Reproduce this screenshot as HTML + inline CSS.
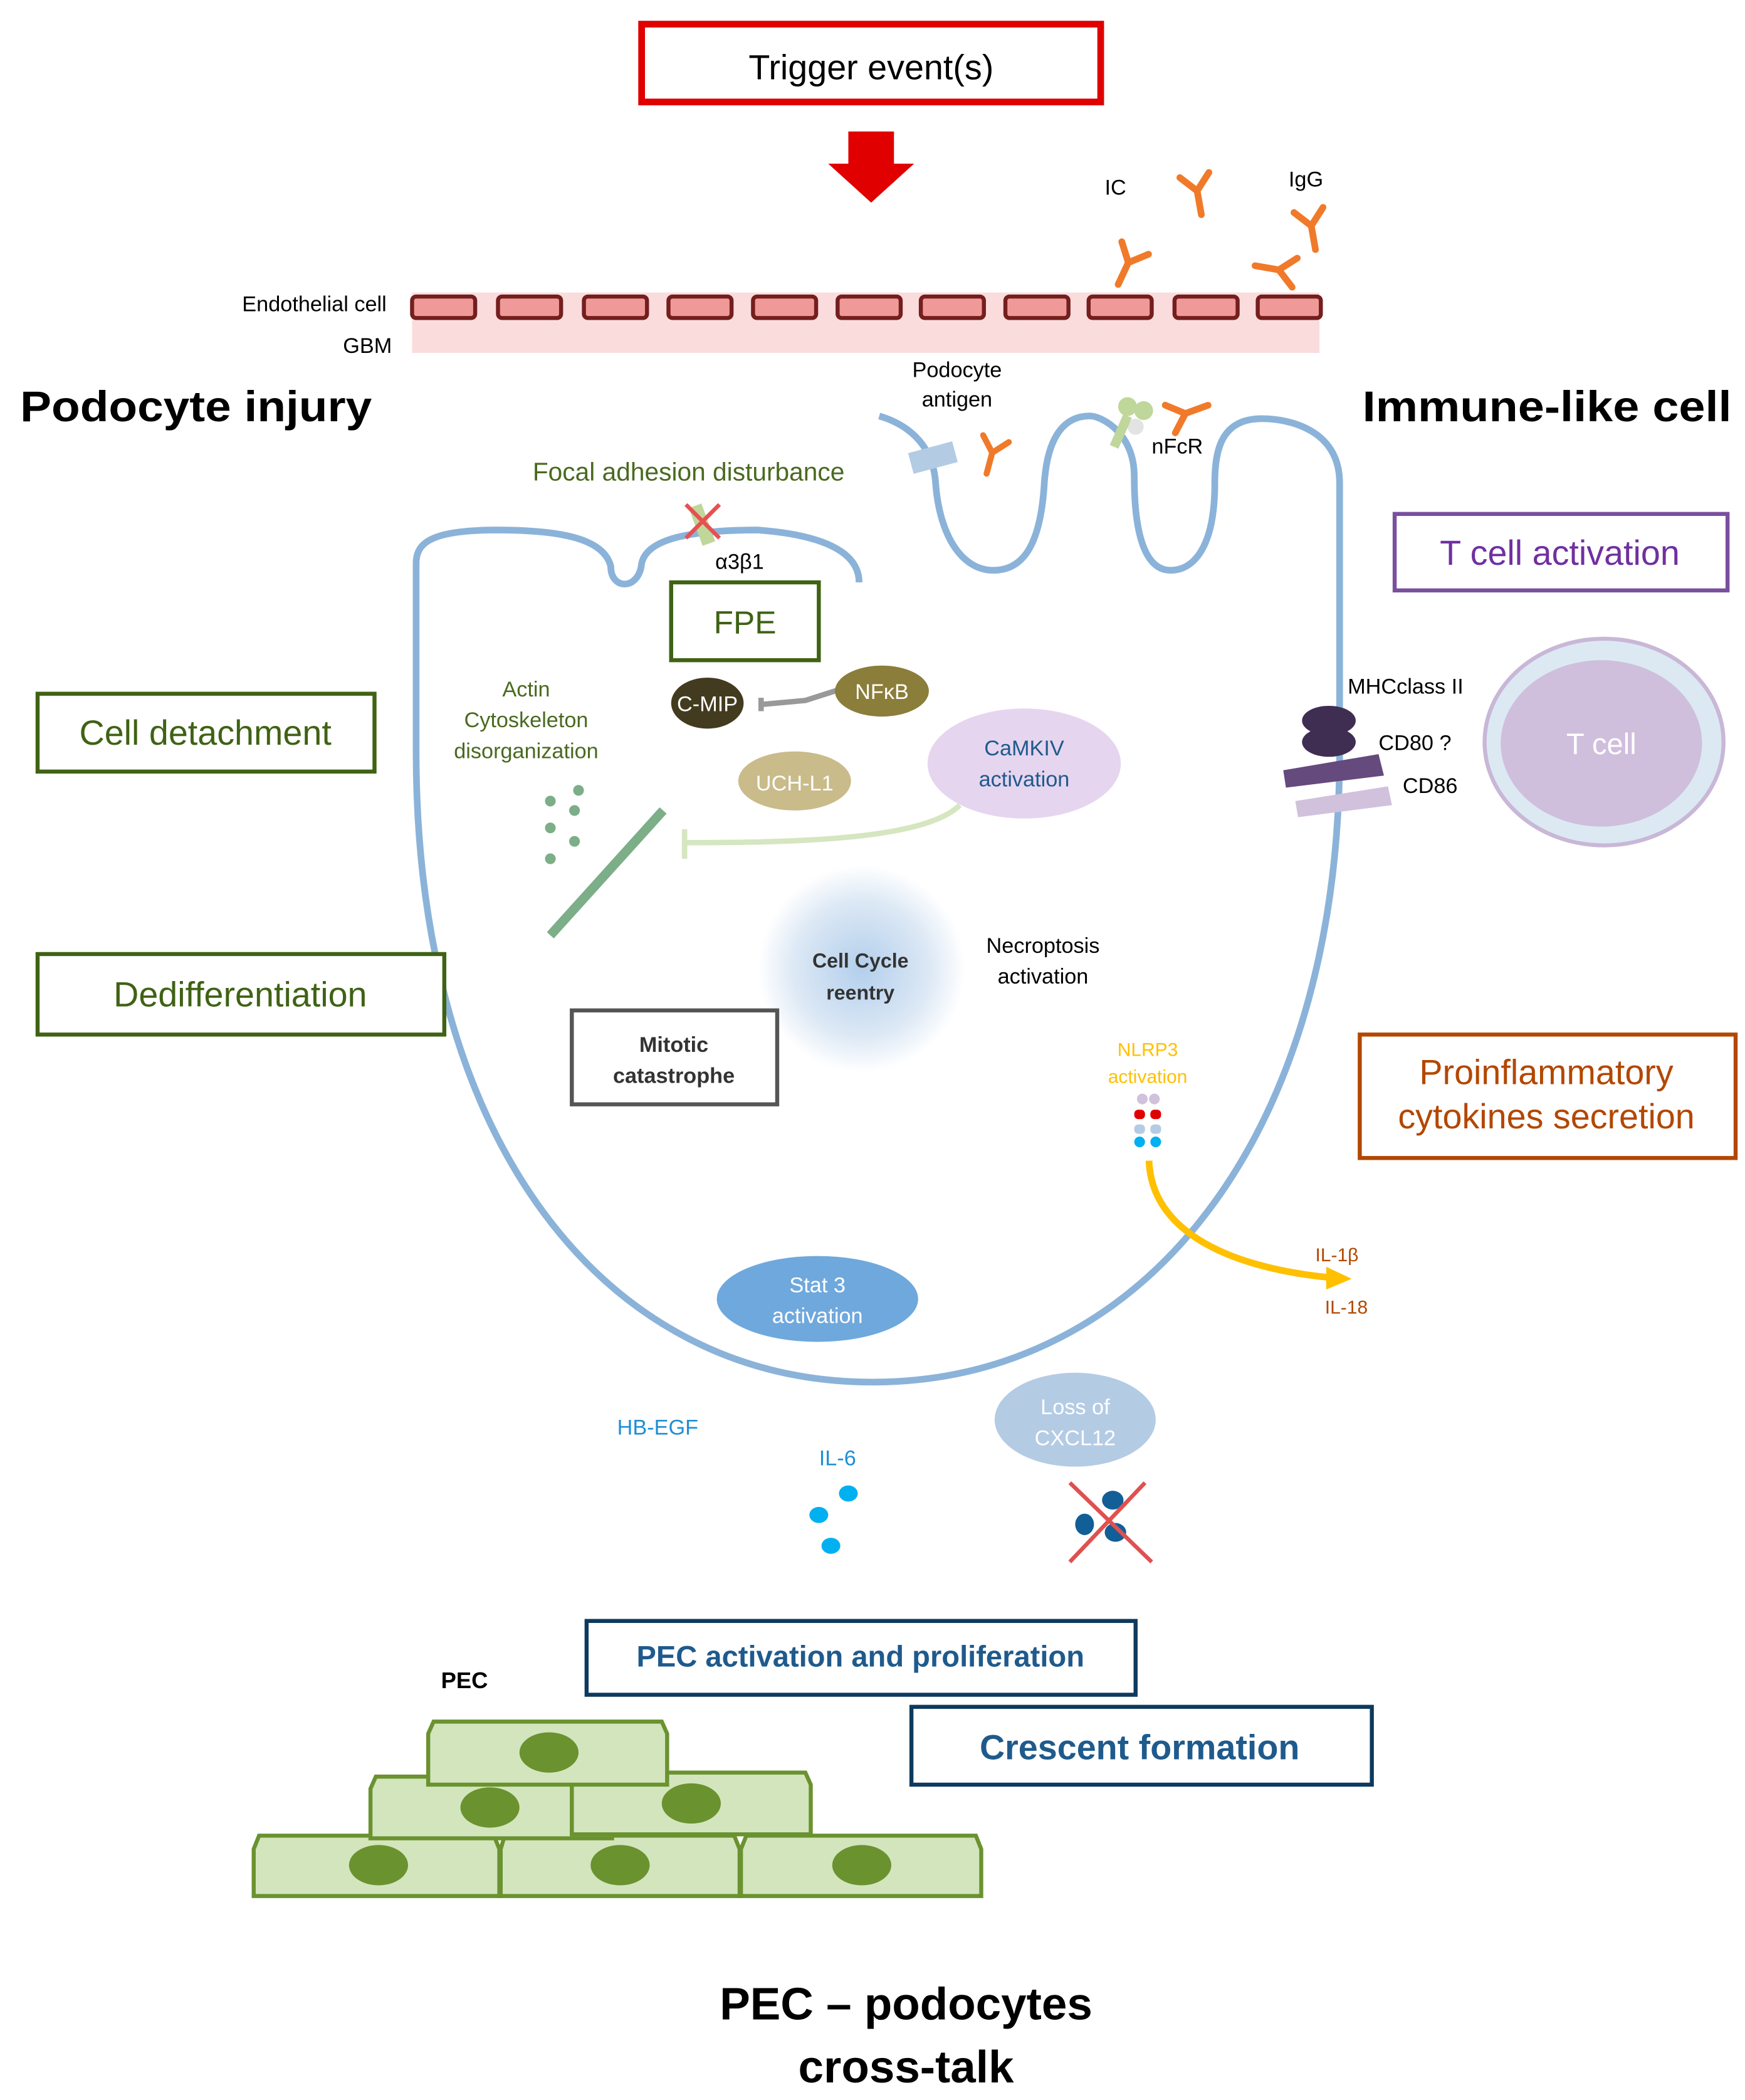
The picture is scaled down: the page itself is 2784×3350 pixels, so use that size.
<!DOCTYPE html>
<html><head><meta charset="utf-8"><style>
html,body{margin:0;padding:0;background:#fff}
svg{display:block}
text{font-family:"Liberation Sans",sans-serif}
</style></head><body>
<svg width="2784" height="3350" viewBox="0 0 1300 1565" preserveAspectRatio="none" xmlns="http://www.w3.org/2000/svg">
<defs>
<radialGradient id="cc"><stop offset="0" stop-color="#b3cfec"/><stop offset="0.65" stop-color="#dce8f5"/><stop offset="1" stop-color="#ffffff"/></radialGradient>
<g id="ab" stroke="#f07a2a" stroke-width="5" fill="none" stroke-linecap="round">
<line x1="0" y1="0" x2="0" y2="-18"/><line x1="0" y1="-18" x2="-11" y2="-30"/><line x1="0" y1="-18" x2="11" y2="-30"/>
</g>
</defs>
<rect x="478" y="18" width="342" height="58" fill="#fff" stroke="#e00000" stroke-width="5"/>
<text x="649" y="59" font-size="26" text-anchor="middle">Trigger event(s)</text>
<polygon points="632,98 666,98 666,122 681,122 649,151 617,122 632,122" fill="#e00000"/>
<rect x="307" y="218" width="676" height="45" fill="#fadcdd"/>
<g fill="#ef9a98" stroke="#741e1e" stroke-width="3">
<rect x="307" y="221" width="47" height="16" rx="3"/><rect x="371" y="221" width="47" height="16" rx="3"/>
<rect x="435" y="221" width="47" height="16" rx="3"/><rect x="498" y="221" width="47" height="16" rx="3"/>
<rect x="561" y="221" width="47" height="16" rx="3"/><rect x="624" y="221" width="47" height="16" rx="3"/>
<rect x="686" y="221" width="47" height="16" rx="3"/><rect x="749" y="221" width="47" height="16" rx="3"/>
<rect x="811" y="221" width="47" height="16" rx="3"/><rect x="875" y="221" width="47" height="16" rx="3"/>
<rect x="937" y="221" width="47" height="16" rx="3"/>
</g>
<text x="288" y="232" font-size="16" text-anchor="end">Endothelial cell</text>
<text x="292" y="263" font-size="16" text-anchor="end">GBM</text>
<text x="823" y="145" font-size="16">IC</text>
<text x="960" y="139" font-size="16">IgG</text>
<use href="#ab" transform="translate(833,212) rotate(25)"/>
<use href="#ab" transform="translate(895,160) rotate(-10)"/>
<use href="#ab" transform="translate(935,198) rotate(100)"/>
<use href="#ab" transform="translate(980,186) rotate(-10)"/>
<use href="#ab" transform="translate(735,353) rotate(15) scale(0.9)"/>
<use href="#ab" transform="translate(900,302) rotate(250)"/>
<text x="15" y="314" font-size="32" font-weight="bold" textLength="262" lengthAdjust="spacingAndGlyphs">Podocyte injury</text>
<text x="1015" y="314" font-size="32" font-weight="bold" textLength="275" lengthAdjust="spacingAndGlyphs">Immune-like cell</text>
<path d="M640 434 C640 420 630 400 565 395 C520 395 482 400 478 420 C476 440 455 440 455 422 C450 402 420 395 370 395 C320 395 310 405 310 420 L310 560 C310 850 450 1030 650 1030 C850 1030 998 850 998 560 L998 360 C998 320 960 312 940 312 C910 312 905 335 905 360 C905 410 888 425 872 425 C858 425 845 410 845 355 C845 322 820 310 812 310 C790 310 780 330 778 360 C775 410 760 425 740 425 C717 425 700 400 697 360 C695 328 672 315 655 310" fill="none" stroke="#8bb3d9" stroke-width="5"/>
<text x="713" y="281" font-size="16" text-anchor="middle">Podocyte</text>
<text x="713" y="303" font-size="16" text-anchor="middle">antigen</text>
<rect x="678" y="333" width="34" height="16" fill="#b4cbe4" transform="rotate(-15 695 341)"/>
<circle cx="840" cy="303" r="7" fill="#bfd79b"/><circle cx="852" cy="306" r="7" fill="#bfd79b"/>
<circle cx="846" cy="318" r="6" fill="#e3e3e3"/>
<line x1="840" y1="310" x2="830" y2="333" stroke="#bfd79b" stroke-width="7"/>
<text x="858" y="338" font-size="16">nFcR</text>
<text x="513" y="358" font-size="19" fill="#4a6a1f" text-anchor="middle">Focal adhesion disturbance</text>
<rect x="518" y="376" width="10" height="30" fill="#bfd79b" transform="rotate(-20 523 391)"/>
<line x1="511" y1="376" x2="536" y2="401" stroke="#e85050" stroke-width="3"/>
<line x1="536" y1="376" x2="511" y2="401" stroke="#e85050" stroke-width="3"/>
<text x="551" y="424" font-size="16" text-anchor="middle">α3β1</text>
<rect x="500" y="434" width="110" height="58" fill="#fff" stroke="#3f6214" stroke-width="3"/>
<text x="555" y="472" font-size="24" fill="#3f6214" text-anchor="middle">FPE</text>
<rect x="28" y="517" width="251" height="58" fill="#fff" stroke="#3f6214" stroke-width="3"/>
<text x="153" y="555" font-size="26" fill="#3f6214" text-anchor="middle">Cell detachment</text>
<rect x="28" y="711" width="303" height="60" fill="#fff" stroke="#3f6214" stroke-width="3"/>
<text x="179" y="750" font-size="26" fill="#3f6214" text-anchor="middle">Dedifferentiation</text>
<text x="392" y="519" font-size="16" fill="#4a6a1f" text-anchor="middle">Actin</text>
<text x="392" y="542" font-size="16" fill="#4a6a1f" text-anchor="middle">Cytoskeleton</text>
<text x="392" y="565" font-size="16" fill="#4a6a1f" text-anchor="middle">disorganization</text>
<line x1="410" y1="697" x2="494" y2="604" stroke="#7cae88" stroke-width="7"/>
<g fill="#7cae88"><circle cx="431" cy="589" r="4"/><circle cx="410" cy="597" r="4"/><circle cx="428" cy="604" r="4"/><circle cx="410" cy="617" r="4"/><circle cx="428" cy="627" r="4"/><circle cx="410" cy="640" r="4"/></g>
<line x1="567" y1="520" x2="567" y2="530" stroke="#999" stroke-width="4"/>
<path d="M567 525 L600 522 L625 514" fill="none" stroke="#999" stroke-width="4"/>
<ellipse cx="527" cy="524" rx="27" ry="19" fill="#433b1f"/>
<text x="527" y="530" font-size="16" fill="#fff" text-anchor="middle">C-MIP</text>
<ellipse cx="657" cy="515" rx="35" ry="19" fill="#8b7d3a"/>
<text x="657" y="521" font-size="16" fill="#fff" text-anchor="middle">NFκB</text>
<ellipse cx="592" cy="582" rx="42" ry="22" fill="#c9bb8a"/>
<text x="592" y="589" font-size="16" fill="#fff" text-anchor="middle">UCH-L1</text>
<path d="M715 600 C690 625 600 628 510 628" fill="none" stroke="#d5e6c0" stroke-width="4"/>
<line x1="510" y1="618" x2="510" y2="640" stroke="#d5e6c0" stroke-width="4"/>
<ellipse cx="763" cy="569" rx="72" ry="41" fill="#e6d5ef"/>
<text x="763" y="563" font-size="16" fill="#1f5a8c" text-anchor="middle">CaMKIV</text>
<text x="763" y="586" font-size="16" fill="#1f5a8c" text-anchor="middle">activation</text>
<circle cx="642" cy="722" r="77" fill="url(#cc)"/>
<text x="641" y="721" font-size="15" font-weight="bold" fill="#333" text-anchor="middle">Cell Cycle</text>
<text x="641" y="745" font-size="15" font-weight="bold" fill="#333" text-anchor="middle">reentry</text>
<text x="777" y="710" font-size="16" text-anchor="middle">Necroptosis</text>
<text x="777" y="733" font-size="16" text-anchor="middle">activation</text>
<rect x="426" y="753" width="153" height="70" fill="#fff" stroke="#555" stroke-width="3"/>
<text x="502" y="784" font-size="16" font-weight="bold" fill="#333" text-anchor="middle">Mitotic</text>
<text x="502" y="807" font-size="16" font-weight="bold" fill="#333" text-anchor="middle">catastrophe</text>
<ellipse cx="990" cy="537" rx="20" ry="11" fill="#402d52"/><ellipse cx="990" cy="553" rx="20" ry="11" fill="#402d52"/>
<polygon points="956,574 1027,562 1031,578 958,587" fill="#654a7e"/>
<polygon points="965,597 1034,586 1037,600 967,609" fill="#d1c1dc"/>
<text x="1004" y="517" font-size="16">MHCclass II</text>
<text x="1027" y="559" font-size="16">CD80 ?</text>
<text x="1045" y="591" font-size="16">CD86</text>
<rect x="1039" y="383" width="248" height="57" fill="#fff" stroke="#7a4f9e" stroke-width="3"/>
<text x="1162" y="421" font-size="26" fill="#7030a0" text-anchor="middle">T cell activation</text>
<ellipse cx="1195" cy="553" rx="89" ry="77" fill="#dce9f3" stroke="#c9b7d7" stroke-width="3"/>
<ellipse cx="1193" cy="554" rx="75" ry="62" fill="#cfbfdc"/>
<text x="1193" y="562" font-size="22" fill="#fff" text-anchor="middle">T cell</text>
<rect x="1013" y="771" width="280" height="92" fill="#fff" stroke="#b34700" stroke-width="3"/>
<text x="1152" y="808" font-size="26" fill="#b34700" text-anchor="middle">Proinflammatory</text>
<text x="1152" y="841" font-size="26" fill="#b34700" text-anchor="middle">cytokines secretion</text>
<text x="855" y="787" font-size="14" fill="#ffc000" text-anchor="middle">NLRP3</text>
<text x="855" y="807" font-size="14" fill="#ffc000" text-anchor="middle">activation</text>
<circle cx="851" cy="819" r="4" fill="#d1c1dc"/><circle cx="860" cy="819" r="4" fill="#d1c1dc"/>
<rect x="845" y="827" width="8" height="7" rx="3" fill="#e00000"/><rect x="857" y="827" width="8" height="7" rx="3" fill="#e00000"/>
<rect x="845" y="838" width="8" height="7" rx="3" fill="#b4cbe4"/><rect x="857" y="838" width="8" height="7" rx="3" fill="#b4cbe4"/>
<circle cx="849" cy="851" r="4" fill="#00b0f0"/><circle cx="861" cy="851" r="4" fill="#00b0f0"/>
<path d="M856 865 C858 920 920 945 990 952" fill="none" stroke="#ffc000" stroke-width="5"/>
<polygon points="988,944 1007,953 988,961" fill="#ffc000"/>
<text x="996" y="940" font-size="14" fill="#b34700" text-anchor="middle">IL-1β</text>
<text x="1003" y="979" font-size="14" fill="#b34700" text-anchor="middle">IL-18</text>
<ellipse cx="609" cy="968" rx="75" ry="32" fill="#6fa8dc"/>
<text x="609" y="963" font-size="16" fill="#fff" text-anchor="middle">Stat 3</text>
<text x="609" y="986" font-size="16" fill="#fff" text-anchor="middle">activation</text>
<text x="490" y="1069" font-size="16" fill="#1f8fd6" text-anchor="middle">HB-EGF</text>
<text x="624" y="1092" font-size="16" fill="#1f8fd6" text-anchor="middle">IL-6</text>
<g fill="#00b0f0"><ellipse cx="632" cy="1113" rx="7" ry="6"/><ellipse cx="610" cy="1129" rx="7" ry="6"/><ellipse cx="619" cy="1152" rx="7" ry="6"/></g>
<ellipse cx="801" cy="1058" rx="60" ry="35" fill="#b4cbe4"/>
<text x="801" y="1054" font-size="16" fill="#fff" text-anchor="middle">Loss of</text>
<text x="801" y="1077" font-size="16" fill="#fff" text-anchor="middle">CXCL12</text>
<g fill="#125e96"><ellipse cx="829" cy="1118" rx="8" ry="7"/><ellipse cx="808" cy="1136" rx="7" ry="8"/><ellipse cx="831" cy="1142" rx="8" ry="7"/></g>
<line x1="797" y1="1105" x2="858" y2="1164" stroke="#e05050" stroke-width="3"/>
<line x1="853" y1="1105" x2="797" y2="1164" stroke="#e05050" stroke-width="3"/>
<rect x="437" y="1208" width="409" height="55" fill="#fff" stroke="#0d3a5e" stroke-width="3"/>
<text x="641" y="1242" font-size="22" font-weight="bold" fill="#1f5a8c" text-anchor="middle">PEC activation and proliferation</text>
<rect x="679" y="1272" width="343" height="58" fill="#fff" stroke="#0d3a5e" stroke-width="3"/>
<text x="849" y="1311" font-size="26" font-weight="bold" fill="#1f5a8c" text-anchor="middle">Crescent formation</text>
<text x="346" y="1258" font-size="17" font-weight="bold" text-anchor="middle">PEC</text>
<g fill="#d3e5bd" stroke="#6a922f" stroke-width="3">
<polygon points="193,1368 368,1368 372,1378 372,1413 189,1413 189,1378"/>
<polygon points="376,1368 547,1368 551,1378 551,1413 373,1413 373,1378"/>
<polygon points="556,1368 727,1368 731,1378 731,1413 552,1413 552,1378"/>
<polygon points="280,1324 452,1324 456,1333 456,1370 276,1370 276,1333"/>
<polygon points="430,1321 600,1321 604,1330 604,1367 426,1367 426,1330"/>
<polygon points="323,1283 493,1283 497,1292 497,1330 319,1330 319,1292"/>
</g>
<g fill="#6a922f">
<ellipse cx="282" cy="1390" rx="22" ry="15"/><ellipse cx="462" cy="1390" rx="22" ry="15"/><ellipse cx="642" cy="1390" rx="22" ry="15"/>
<ellipse cx="365" cy="1347" rx="22" ry="15"/><ellipse cx="515" cy="1344" rx="22" ry="15"/><ellipse cx="409" cy="1306" rx="22" ry="15"/>
</g>
<text x="675" y="1505" font-size="34" font-weight="bold" text-anchor="middle">PEC – podocytes</text>
<text x="675" y="1552" font-size="34" font-weight="bold" text-anchor="middle">cross-talk</text>
</svg>
</body></html>
